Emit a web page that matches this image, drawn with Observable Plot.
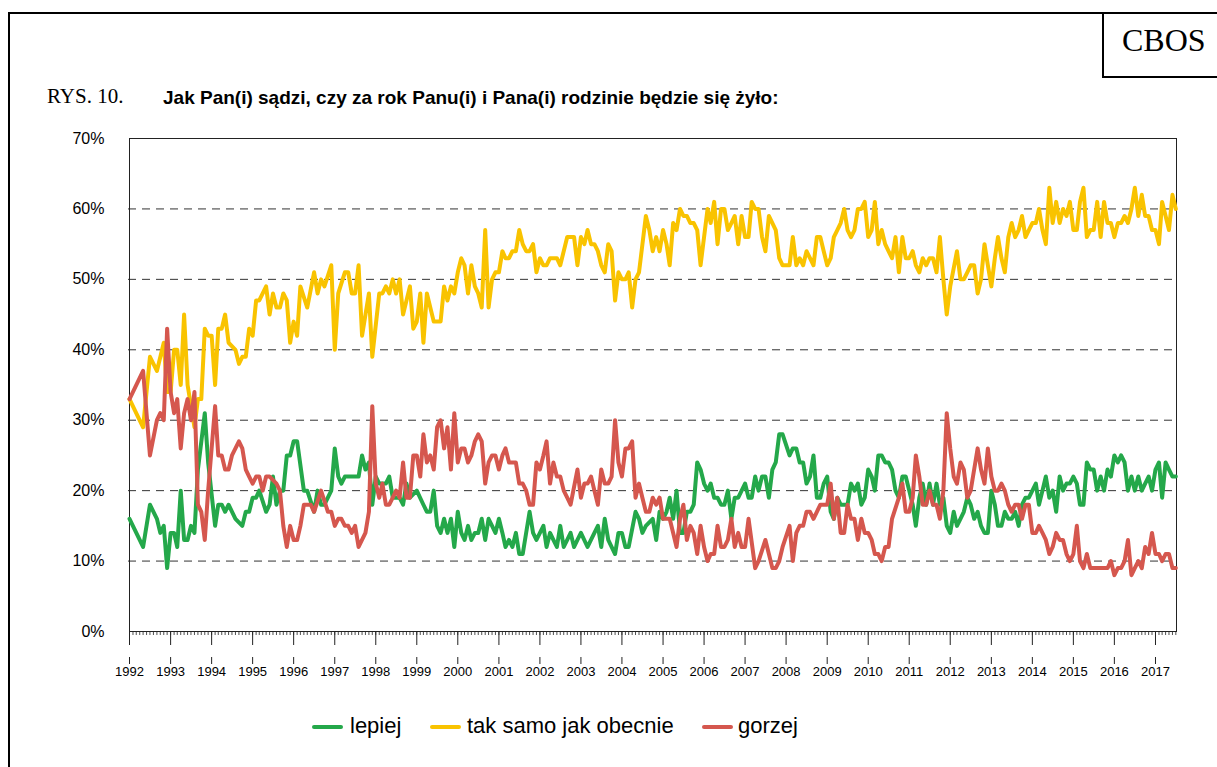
<!DOCTYPE html>
<html><head><meta charset="utf-8">
<script src="https://cdn.jsdelivr.net/npm/d3@7"></script>
<script src="https://cdn.jsdelivr.net/npm/@observablehq/plot@0.6"></script>
<style>
html,body{margin:0;padding:0;background:#fff;}
body{width:1217px;height:767px;overflow:hidden;position:relative;font-family:"Liberation Sans",Arial,sans-serif;color:#000;}
#border{position:absolute;left:8px;top:12px;width:1300px;height:900px;border:2px solid #000;box-sizing:border-box;z-index:5;pointer-events:none;}
#cbos{position:absolute;left:1102px;top:12px;width:200px;height:66px;border:2px solid #000;box-sizing:border-box;background:#fff;z-index:6;}
#cbos span{position:absolute;left:18px;top:10px;font-family:"Liberation Serif","Times New Roman",serif;font-size:32px;line-height:32px;}
.t{position:absolute;white-space:nowrap;line-height:1;}
#rys{left:47px;top:86px;font-family:"Liberation Serif","Times New Roman",serif;font-size:21px;}
#ttl{left:163px;top:88px;font-weight:bold;font-size:19px;}
#chart{position:absolute;left:0;top:120px;}
.sw{position:absolute;width:31px;height:4px;border-radius:2px;top:725px;}
.lg{position:absolute;top:715px;font-size:22px;line-height:22px;white-space:nowrap;}
</style></head>
<body>
<div id="chart"></div>
<div id="border"></div>
<div id="cbos"><span>CBOS</span></div>
<div class="t" id="rys">RYS. 10.</div>
<div class="t" id="ttl">Jak Pan(i) sądzi, czy za rok Panu(i) i Pana(i) rodzinie będzie się żyło:</div>
<div id="legend"></div>
<script>
// Month index counted from January 1992 (0 = 1992-01)
const seriesNames = ["lepiej", "tak samo jak obecnie", "gorzej"];
const seriesColors = ["#24a84a", "#f9c300", "#d5574e"];

const lepiejMonths = [0,4,6,8,9,10,11,12,13,14,15,16,17,18,19,20,22,23,25,26,27,28,29,31,33,34,35,36,37,38,40,41,42,43,44,45,46,47,48,49,51,52,54,55,56,57,59,60,61,62,63,67,68,69,70,71,72,73,75,76,77,79,80,81,82,84,86,87,88,89,90,91,92,93,94,95,96,97,98,99,100,101,102,103,104,105,106,107,108,109,110,111,112,113,114,115,117,118,119,120,121,122,123,124,125,126,127,128,129,130,131,132,134,136,137,138,139,140,142,143,144,145,146,148,149,150,151,153,154,155,156,157,158,159,160,161,162,163,164,165,166,167,168,169,170,171,172,173,174,175,176,177,178,180,181,182,183,184,185,186,187,188,189,190,191,193,194,195,196,197,198,199,200,201,202,203,204,205,206,207,208,210,211,212,213,214,215,216,217,218,219,220,221,222,223,224,225,226,227,228,229,230,231,232,233,234,235,236,237,238,239,240,241,242,243,244,245,246,247,248,249,250,251,252,253,254,255,256,257,258,259,260,261,262,263,264,265,266,267,268,269,270,271,272,273,274,275,276,277,278,279,280,281,282,283,284,285,286,287,288,289,290,291,292,293,294,295,296,297,298,299,300,301,302,303,304,305,306];
const lepiej = [16,12,18,16,14,15,9,14,14,12,20,13,13,15,14,23,31,24,15,18,18,17,18,16,15,17,17,19,19,20,17,18,22,18,20,20,25,25,27,27,20,20,17,20,18,18,20,26,22,21,22,22,25,23,24,18,22,21,21,22,19,19,18,21,19,20,18,17,17,20,15,14,16,14,16,12,17,14,13,15,13,14,14,16,13,16,15,14,16,14,12,13,12,14,11,11,17,14,13,14,15,12,14,13,12,15,12,13,14,12,13,14,12,14,15,12,16,13,11,14,14,12,12,17,16,14,15,16,13,17,16,17,19,16,20,14,14,17,17,18,24,23,21,20,21,19,19,18,18,20,16,19,19,21,19,19,22,20,22,22,19,23,24,28,28,25,26,26,24,24,21,22,25,19,19,21,22,17,16,19,18,18,21,20,21,18,19,23,22,20,25,25,24,24,23,20,19,22,22,20,18,15,19,21,18,21,18,21,18,19,15,14,17,15,16,17,19,18,16,17,15,14,14,20,18,15,15,17,16,16,17,15,18,19,19,20,21,18,20,22,19,20,17,22,20,21,21,22,21,18,18,24,23,23,20,22,20,23,22,25,24,25,24,20,22,20,22,20,21,22,20,23,24,19,24,23,22,22];

const takSamoMonths = [0,4,6,8,10,11,12,13,14,15,16,17,19,20,21,22,23,24,25,26,27,28,29,31,32,33,34,35,36,37,38,40,41,42,43,44,45,46,47,48,49,50,52,54,55,56,57,59,60,61,63,64,65,66,67,68,70,71,73,74,75,76,77,78,79,80,82,83,84,85,86,87,89,91,92,93,94,95,96,97,98,99,100,101,102,103,104,105,106,107,108,109,110,111,112,113,114,115,116,117,118,119,120,121,122,123,125,126,128,130,131,132,133,134,135,136,137,138,139,140,141,142,143,144,145,146,147,148,149,151,152,153,154,155,156,157,158,159,160,161,162,163,164,165,166,167,169,170,171,172,173,174,175,176,177,178,179,180,181,182,183,184,185,186,187,188,189,190,191,193,194,195,196,197,198,199,200,201,202,203,204,205,206,207,208,209,210,211,212,213,214,215,216,217,218,219,220,221,222,223,224,225,226,227,228,229,230,231,232,233,234,235,236,237,238,239,240,242,243,244,245,246,247,248,249,250,251,252,253,254,255,256,257,258,259,260,261,262,263,264,265,266,267,268,269,270,271,272,273,274,275,276,277,278,279,280,281,282,283,284,285,286,287,288,289,290,291,292,293,294,295,296,297,298,299,300,301,302,303,304,305,306];
const takSamo = [33,29,39,37,41,34,34,40,40,35,45,35,29,33,33,43,42,42,35,43,43,45,41,40,38,39,39,43,42,47,47,49,45,48,46,46,48,47,41,44,42,49,46,51,48,50,49,52,40,48,51,51,48,48,52,42,48,39,48,48,49,48,50,48,50,45,49,43,44,48,41,48,44,44,49,47,49,48,51,53,52,48,52,49,48,46,57,46,50,51,51,54,53,53,54,54,57,55,54,54,55,51,53,52,52,53,53,52,56,56,52,56,55,57,55,55,54,52,51,55,54,47,51,50,50,51,46,50,51,59,57,54,56,54,57,55,52,58,57,60,59,59,58,58,57,52,60,58,61,55,60,60,57,58,59,55,59,56,56,61,60,60,56,54,59,58,57,53,52,52,56,52,53,52,54,53,52,56,56,54,52,53,56,57,58,60,57,56,57,60,60,61,56,57,61,55,57,55,54,53,56,51,56,53,53,54,52,51,53,52,53,53,51,56,50,45,49,54,50,50,51,52,52,48,50,55,52,49,53,56,53,51,56,58,56,57,59,56,57,58,58,60,57,55,63,58,61,58,60,59,61,57,57,61,63,56,57,57,61,56,61,58,58,56,58,58,59,58,60,63,59,62,59,59,57,57,55,61,59,57,62,60];

const gorzejMonths = [0,4,6,8,9,10,11,12,13,14,15,16,17,18,19,20,21,22,23,25,26,27,28,29,30,32,33,34,35,36,37,38,39,40,41,43,44,45,46,47,48,49,50,51,53,54,56,58,59,60,61,62,63,64,65,66,67,69,70,71,72,73,74,75,76,77,78,79,80,81,82,83,84,85,86,87,88,89,90,91,92,93,94,95,96,97,98,99,100,101,102,103,104,105,106,107,108,109,110,111,113,114,115,116,117,118,119,120,121,122,123,124,125,126,127,128,129,131,132,133,134,135,136,137,138,139,140,141,142,143,144,145,146,147,148,149,150,151,152,153,154,155,156,158,159,160,161,162,163,164,165,166,167,168,169,170,171,172,173,174,175,176,177,178,179,180,181,183,184,186,187,188,189,190,191,193,194,195,196,197,198,199,200,201,202,204,205,206,207,208,209,210,211,212,213,214,215,216,217,218,219,220,221,222,223,225,226,227,228,229,230,231,232,233,234,235,236,237,238,239,240,241,242,243,244,245,246,247,248,249,250,251,252,253,254,255,256,257,258,259,260,261,262,263,264,265,266,267,268,269,270,271,272,273,274,275,276,277,278,279,280,281,286,287,288,289,290,291,292,293,294,295,296,297,298,299,300,301,302,303,304,305,306];
const gorzej = [33,37,25,30,31,30,43,34,31,33,26,31,33,30,34,18,17,13,20,32,25,25,23,23,25,27,26,23,22,21,22,22,20,22,22,21,20,15,12,15,13,13,15,18,18,17,20,17,17,15,16,16,15,15,14,15,12,14,17,32,21,19,21,18,18,19,20,19,24,19,19,25,25,22,28,24,25,23,29,30,26,29,23,31,24,26,26,24,25,27,28,27,21,24,25,25,23,25,26,24,24,21,21,20,18,18,24,23,25,27,21,24,22,22,20,19,18,23,19,21,21,22,20,18,23,21,21,22,30,24,22,26,26,27,19,21,19,17,17,19,18,19,16,16,14,12,16,18,13,15,14,11,15,12,10,11,11,15,12,12,13,16,12,14,12,12,16,9,10,13,11,9,9,10,12,15,10,14,15,15,17,17,16,17,18,18,21,16,19,14,14,18,16,16,13,16,14,14,13,11,11,10,12,12,16,19,21,17,17,19,25,22,18,18,20,18,18,16,20,31,26,22,21,24,23,19,20,23,26,23,21,26,22,20,20,21,20,18,17,18,18,16,18,18,14,14,15,14,13,11,12,14,13,13,11,10,11,15,10,9,11,9,9,10,8,9,9,10,13,8,9,10,9,12,11,14,11,11,10,11,11,9,9];

const yTicks = [0, 10, 20, 30, 40, 50, 60, 70];
const gridValues = [10, 20, 30, 40, 50, 60];
const firstYear = 1992, lastYear = 2017;

const monthDate = m => new Date(Date.UTC(firstYear, m, 1));
const rows = [];
[[lepiejMonths, lepiej], [takSamoMonths, takSamo], [gorzejMonths, gorzej]].forEach(([ms, vs], i) => {
  ms.forEach((m, j) => rows.push({series: seriesNames[i], date: monthDate(m), value: vs[j]}));
});

const years = d3.range(firstYear, lastYear + 1).map(y => new Date(Date.UTC(y, 0, 1)));
const xStart = new Date(Date.UTC(firstYear, 0, 1));
const xEnd = new Date(Date.UTC(lastYear, 6, 7));
const months = d3.utcMonths(xStart, xEnd);

const W = 1217, H = 570, mT = 18, mB = 59, mL = 129, mR = 41;
const plotH = H - mT - mB;

const chart = Plot.plot({
  width: W, height: H,
  marginTop: mT, marginBottom: mB, marginLeft: mL, marginRight: mR,
  style: {fontFamily: "'Liberation Sans', Arial, sans-serif", fontSize: "16px", color: "#000", background: "transparent"},
  x: {type: "utc", domain: [xStart, xEnd], axis: null},
  y: {domain: [0, 70], axis: null},
  color: {domain: seriesNames, range: seriesColors},
  marks: [
    Plot.ruleY(gridValues, {y: d => d, stroke: "#333", strokeWidth: 1, strokeDasharray: "8,6", insetLeft: -1}),
    Plot.frame({stroke: "#222", strokeWidth: 1}),
    Plot.ruleX(months, {x: d => d, insetTop: plotH - 4, dy: 4, stroke: "#222", strokeWidth: 0.8}),
    Plot.ruleX(years, {x: d => d, insetTop: plotH - 14, dy: 14, stroke: "#222", strokeWidth: 1}),
    Plot.ruleX(years, {x: d => d, insetTop: plotH - 7, dy: 33, stroke: "#222", strokeWidth: 1}),
    Plot.text(years, {x: d => d, frameAnchor: "bottom", dy: 44, text: d => String(d.getUTCFullYear()), fontSize: 13, fill: "#000"}),
    Plot.text(yTicks, {y: d => d, frameAnchor: "left", dx: -25, text: d => d + "%", textAnchor: "end", fontSize: 16, fill: "#000"}),
    Plot.line(rows, {x: "date", y: "value", z: "series", stroke: "series", strokeWidth: 4, strokeLinejoin: "round", strokeLinecap: "round"})
  ]
});
document.getElementById("chart").appendChild(chart);

// legend
const legend = document.getElementById("legend");
const swLeft = [312, 430, 702];
const txtLeft = [350, 467, 738];
seriesNames.forEach((name, i) => {
  const sw = document.createElement("div");
  sw.className = "sw"; sw.style.left = swLeft[i] + "px"; sw.style.background = seriesColors[i];
  legend.appendChild(sw);
  const t = document.createElement("div");
  t.className = "lg"; t.style.left = txtLeft[i] + "px"; t.textContent = name;
  legend.appendChild(t);
});
</script>
</body></html>
